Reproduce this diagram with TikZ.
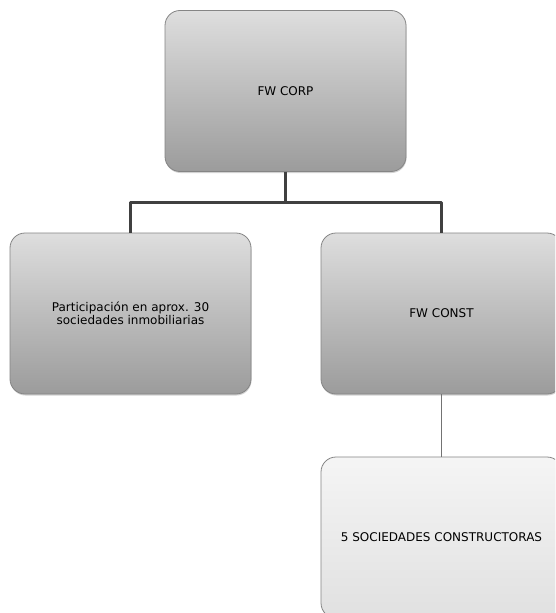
\documentclass[tikz,border=0pt]{standalone}
\usepackage{fontspec}
\setmainfont{DejaVu Sans}
\usetikzlibrary{positioning,calc,shadows}
\definecolor{boxtop}{gray}{0.87}
\definecolor{boxbot}{gray}{0.61}
\definecolor{lowtop}{gray}{0.96}
\definecolor{lowbot}{gray}{0.88}
\definecolor{rim}{gray}{0.52}
\tikzset{
  orgbox/.style={rectangle,rounded corners=15pt,draw=rim,line width=0.8pt,
                 top color=boxtop,bottom color=boxbot,
                 minimum width=241pt,minimum height=161pt,align=center,
                 font=\fontsize{12}{13}\selectfont,
                 drop shadow={shadow xshift=0.5pt,shadow yshift=-1.5pt,opacity=0.35}},
  lowbox/.style={orgbox,top color=lowtop,bottom color=lowbot},
  link/.style={draw=black!75,line width=2.2pt},
  thinlink/.style={draw=black!55,line width=1.5pt},
  every picture/.style={line cap=butt,line join=round}}

\begin{document}
\begin{tikzpicture}[x=1pt,y=-1pt]
  \useasboundingbox (0,0) rectangle (555,613);
  \clip (0,0) rectangle (555,613);
  \fill[white] (0,0) rectangle (555,613);
  \node[orgbox] (corp) at (285.5,91){FW CORP};
  \node[orgbox] (inmob) at (130.5,313.5){Participación en aprox. 30\\sociedades inmobiliarias};
  \node[orgbox] (const) at (441.5,313.5){FW CONST};
  \node[lowbox] (constr) at (441.5,537.5){5 SOCIEDADES CONSTRUCTORAS};
  \draw[link] (corp.south) -- ++(0,30.5) -| (inmob.north);
  \draw[link] (corp.south) -- ++(0,30.5) -| (const.north);
  \draw[thinlink] (const.south) -- (constr.north);
\end{tikzpicture}
\end{document}
